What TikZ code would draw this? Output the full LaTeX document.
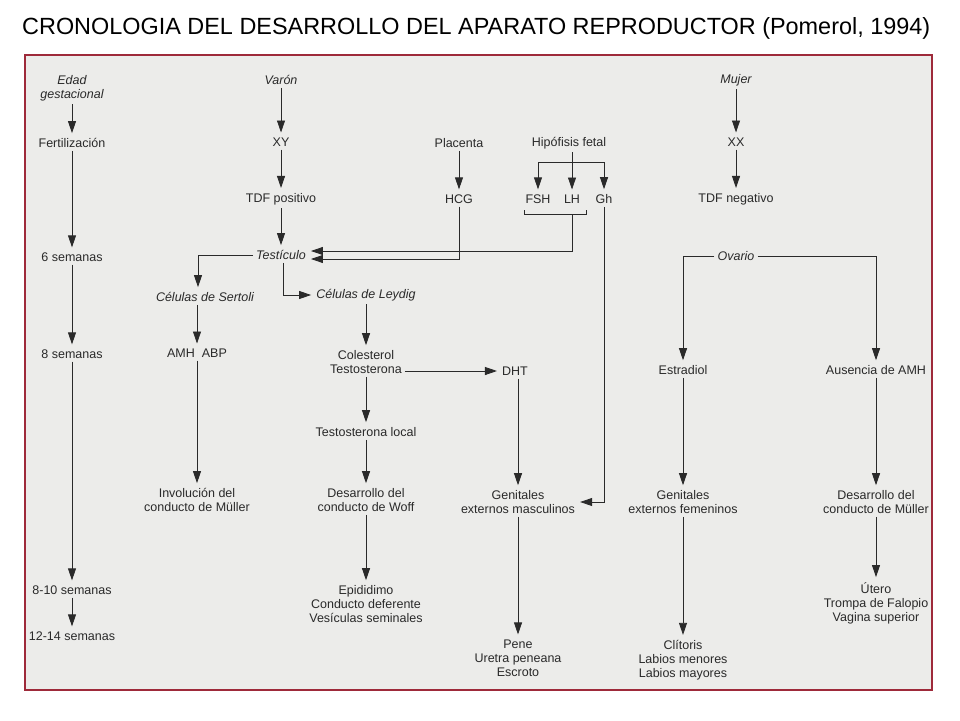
\documentclass[tikz,border=0pt]{standalone}
\usepackage{fontspec}
\setmainfont{Liberation Sans}
\usetikzlibrary{arrows.meta}
\definecolor{frame}{HTML}{9E2A3A}
\definecolor{bg}{HTML}{ECECEA}
\definecolor{ink}{HTML}{2A2A2A}
\begin{document}
\begin{tikzpicture}[x=1pt,y=-1pt,
  lbl/.style={font=\fontsize{12.5}{14}\selectfont, text=ink, align=center, inner sep=3pt},
  it/.style={lbl, font=\fontsize{12.5}{14}\selectfont\itshape},
  ar/.style={draw=ink, line width=0.8pt, -{Triangle[length=12pt,width=8pt]}, shorten >=2pt},
  ln/.style={draw=ink, line width=0.8pt}]
\useasboundingbox (0,0) rectangle (960,720);
\fill[white] (0,0) rectangle (960,720);
\draw[frame, line width=1.5pt, fill=bg] (25,55) rectangle (932,690);
\node[anchor=west, font=\fontsize{19}{20}\selectfont, inner sep=0] (title) at (22,28) {\resizebox{908pt}{!}{CRONOLOGIA DEL DESARROLLO DEL APARATO REPRODUCTOR (Pomerol, 1994)}};
% left column
\node[it] (edad) at (72,88) {Edad\\gestacional};
\node[lbl] (fert) at (72,143) {Fertilización};
\node[lbl] (s6) at (72,257) {6 semanas};
\node[lbl] (s8) at (72,354) {8 semanas};
\node[lbl] (s810) at (72,590) {8-10 semanas};
\node[lbl] (s1214) at (72,636) {12-14 semanas};
\draw[ar] (edad) -- (fert);
\draw[ar] (fert) -- (s6);
\draw[ar] (s6) -- (s8);
\draw[ar] (s8) -- (s810);
\draw[ar] (s810) -- (s1214);
% male
\node[it] (varon) at (281,80) {Varón};
\node[lbl] (xy) at (281,142) {XY};
\node[lbl] (tdfp) at (281,199) {TDF positivo};
\node[it] (test) at (281,255) {Testículo};
\draw[ar] (varon) -- (xy);
\draw[ar] (xy) -- (tdfp);
\draw[ar] (tdfp) -- (test);
\node[lbl] (plac) at (459,143) {Placenta};
\node[lbl] (hcg) at (459,199) {HCG};
\draw[ar] (plac) -- (hcg);
\node[lbl] (hip) at (569,143) {Hipófisis fetal};
\node[lbl] (fsh) at (538,199) {FSH};
\node[lbl] (lh) at (572,199) {LH};
\node[lbl] (gh) at (604,199) {Gh};
\coordinate (hj) at (572,162);
\draw[ln] (hip.south -| hj) -- (hj);
\draw[ln] (fsh.north |- hj) -- (gh.north |- hj);
\draw[ar] (fsh.north |- hj) -- (fsh);
\draw[ar] (hj) -- (lh);
\draw[ar] (gh.north |- hj) -- (gh);
\draw[ln] (524,210) -- (524,214) -- (586,214) -- (586,210);
\coordinate (lhb) at (572,214);
\draw[ar] (hcg) |- ([yshift=-4pt]test.east);
\draw[ar] (lhb) |- ([yshift=4pt]test.east);
\node[it] (sert) at (205,297) {Células de Sertoli};
\node[it] (leyd) at (366,295) {Células de Leydig};
\draw[ar] (test.west) -| (sert.north -| 198,0);
\draw[ar] ([xshift=2pt]test.south) |- (leyd.west);
\node[lbl] (amh) at (197,353) {AMH\ \ ABP};
\node[lbl] (invo) at (197,500) {Involución del\\conducto de Müller};
\draw[ar] (sert.south -| amh) -- (amh);
\draw[ar] (amh) -- (invo);
\node[lbl] (col) at (366,362) {Colesterol\\Testosterona};
\node[lbl] (dht) at (515,371) {DHT};
\node[lbl] (tloc) at (366,432) {Testosterona local};
\node[lbl] (woff) at (366,500) {Desarrollo del\\conducto de Woff};
\node[lbl] (epi) at (366,604) {Epididimo\\Conducto deferente\\Vesículas seminales};
\draw[ar] (leyd) -- (col);
\draw[ar] (col.east |- dht) -- (dht);
\draw[ar] (col) -- (tloc);
\draw[ar] (tloc) -- (woff);
\draw[ar] (woff) -- (epi);
\node[lbl] (gem) at (518,502) {Genitales\\externos masculinos};
\node[lbl] (pene) at (518,658) {Pene\\Uretra peneana\\Escroto};
\draw[ar] (dht.south -| gem) -- (gem);
\draw[ar] (gem) -- (pene);
\draw[ar] (gh) |- (gem.east);
% female
\node[it] (mujer) at (736,80) {Mujer};
\node[lbl] (xx) at (736,142) {XX};
\node[lbl] (tdfn) at (736,199) {TDF negativo};
\node[it] (ova) at (736,256) {Ovario};
\draw[ar] (mujer) -- (xx);
\draw[ar] (xx) -- (tdfn);
\node[lbl] (estr) at (683,370) {Estradiol};
\node[lbl] (aus) at (876,370) {Ausencia de AMH};
\draw[ar] (ova.west) -| (estr);
\draw[ar] (ova.east) -| (aus);
\node[lbl] (gef) at (683,502) {Genitales\\externos femeninos};
\node[lbl] (cli) at (683,660) {Clítoris\\Labios menores\\Labios mayores};
\draw[ar] (estr) -- (gef);
\draw[ar] (gef) -- (cli);
\node[lbl] (dmu) at (876,502) {Desarrollo del\\conducto de Müller};
\node[lbl] (ute) at (876,603) {Útero\\Trompa de Falopio\\Vagina superior};
\draw[ar] (aus) -- (dmu);
\draw[ar] (dmu) -- (ute);
\end{tikzpicture}
\end{document}
